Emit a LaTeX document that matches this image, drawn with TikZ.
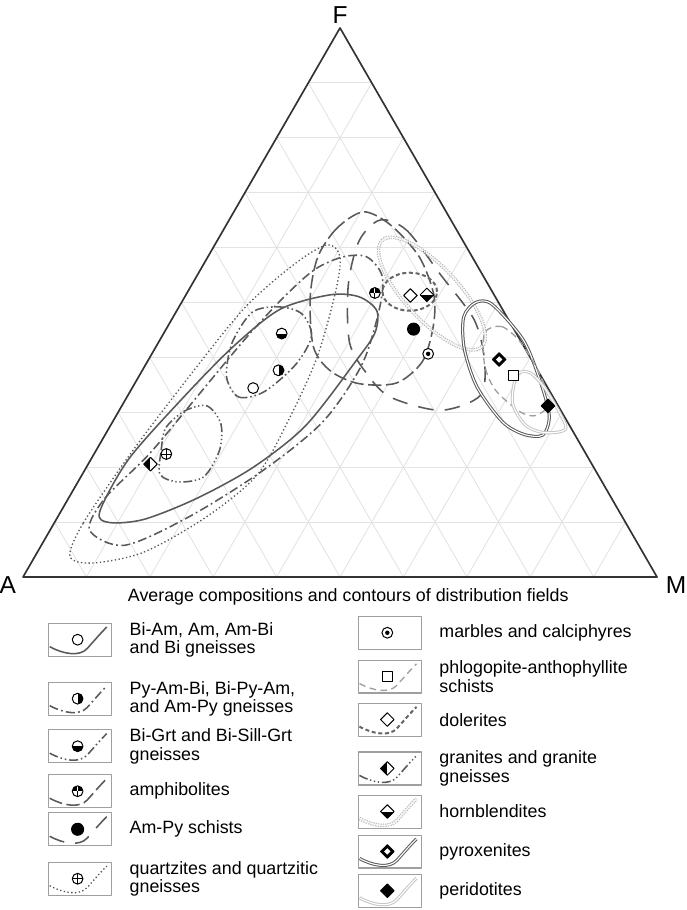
\documentclass[tikz,border=0pt]{standalone}
\usepackage{fontspec}
\setmainfont{Liberation Sans}
\usetikzlibrary{shapes.geometric,calc}

\begin{document}
\begin{tikzpicture}[font=\fontsize{8}{8.4}\selectfont, line join=round]
\tikzstyle{grid}=[draw=gray!22, line width=0.4pt]
\tikzstyle{edge}=[draw=black!80, line width=0.75pt]
\tikzstyle{fld}=[line width=0.7pt, draw=black!65]
\tikzstyle{fBiAm}=[fld]
\tikzstyle{fPyAm}=[fld, dash pattern=on 4pt off 1.5pt on 0.8pt off 1.5pt]
\tikzstyle{fBiGrt}=[fld, dash pattern=on 4pt off 1.3pt on 0.7pt off 1.3pt on 0.7pt off 1.3pt]
\tikzstyle{fAmph}=[fld, dash pattern=on 6pt off 2pt]
\tikzstyle{fAmPy}=[fld, dash pattern=on 7pt off 5pt]
\tikzstyle{fQtz}=[fld, line width=0.6pt, dash pattern=on 0.6pt off 1.1pt]
\tikzstyle{fNone}=[draw=none]
\tikzstyle{fPhl}=[fld, draw=gray!75, line width=0.6pt, dash pattern=on 3pt off 2pt]
\tikzstyle{fDol}=[fld, draw=black!60, line width=0.9pt, dash pattern=on 1.8pt off 1.2pt]
\tikzstyle{fGrn}=[fld, dash pattern=on 4pt off 1.2pt on 0.6pt off 1.2pt on 0.6pt off 1.2pt on 0.6pt off 1.2pt]
\tikzstyle{fHbl}=[draw=gray!55, line width=0.5pt, double=white, double distance=0.6pt, dash pattern=on 0.6pt off 0.5pt]
\tikzstyle{fPyx}=[draw=black!65, line width=0.45pt, double=white, double distance=0.5pt]
\tikzstyle{fPrd}=[draw=gray!45, line width=0.45pt, double=white, double distance=0.5pt]
\tikzstyle{mk}=[draw=black, line width=0.45pt, inner sep=0pt, fill=white]
\tikzstyle{rnd}=[mk, circle, minimum size=1.7mm]
\tikzstyle{dia}=[mk, diamond, minimum size=2.2mm]
\tikzstyle{halfL}=[path picture={\fill[black] (path picture bounding box.south west) rectangle (path picture bounding box.north);}]
\tikzstyle{halfR}=[path picture={\fill[black] (path picture bounding box.north) rectangle (path picture bounding box.south east);}]
\tikzstyle{halfB}=[path picture={\fill[black] (path picture bounding box.south west) rectangle (path picture bounding box.east);}]
\tikzstyle{sBiAm}=[rnd]
\tikzstyle{sPyAm}=[rnd, halfR]
\tikzstyle{sBiGrt}=[rnd, halfB]
\tikzstyle{sAmph}=[rnd, path picture={\fill[black] (path picture bounding box.north west) rectangle (path picture bounding box.east); \draw[white, line width=0.4pt] (path picture bounding box.north) -- (path picture bounding box.center); \draw (path picture bounding box.center) -- (path picture bounding box.south);}]
\tikzstyle{sAmPy}=[rnd, fill=black, minimum size=1.9mm]
\tikzstyle{sQtz}=[rnd, path picture={\draw[line width=0.4pt] (path picture bounding box.north) -- (path picture bounding box.south) (path picture bounding box.west) -- (path picture bounding box.east);}]
\tikzstyle{sMarb}=[rnd, path picture={\fill[black] (path picture bounding box.center) circle (0.35mm);}]
\tikzstyle{sPhl}=[mk, rectangle, minimum size=1.6mm]
\tikzstyle{sDol}=[dia]
\tikzstyle{sGrn}=[dia, halfL]
\tikzstyle{sHbl}=[dia, halfB]
\tikzstyle{sPyx}=[dia, fill=black, path picture={\fill[white] ([yshift=0.5mm]path picture bounding box.center) -- ([xshift=0.5mm]path picture bounding box.center) -- ([yshift=-0.5mm]path picture bounding box.center) -- ([xshift=-0.5mm]path picture bounding box.center) -- cycle;}]
\tikzstyle{sPrd}=[dia, fill=black]
\tikzstyle{key}=[draw=gray!75, line width=0.5pt, minimum width=1.0cm, minimum height=0.52cm, inner sep=0pt]
\useasboundingbox (-0.363,-5.252) rectangle (10.457,9.101);

% triangle A-F-M and 10% grid
\coordinate (A) at (0,0);
\coordinate (M) at (10,0);
\coordinate (F) at (60:10);
\foreach \i in {1,...,9}{
  \draw[grid] ($(A)!\i/10!(F)$) -- ($(M)!\i/10!(F)$);
  \draw[grid] ($(A)!\i/10!(M)$) -- ($(F)!\i/10!(M)$);
  \draw[grid] ($(M)!\i/10!(A)$) -- ($(F)!\i/10!(A)$);
}
\draw[edge] (A) -- (M) -- (F) -- cycle;
\node[font=\fontsize{11}{12}\selectfont] (lF) at (5,8.86) {F};
\node[font=\fontsize{11}{12}\selectfont] (lA) at (-0.24,-0.12) {A};
\node[font=\fontsize{11}{12}\selectfont] (lM) at (10.3,-0.12) {M};
\node (cap) at (5.13,-0.32) {Average compositions and contours of distribution fields};

% distribution fields
\draw[fQtz] plot[smooth cycle] coordinates {(0.74,0.33) (0.95,0.85) (1.70,1.95) (2.58,3.11) (3.50,4.25) (4.30,4.95) (4.80,5.24) (5.00,5.05) (4.93,4.50) (4.65,3.50) (4.25,2.60) (3.70,1.62) (2.88,0.94) (1.90,0.39) (1.09,0.22)};
\draw[fPyAm] plot[smooth cycle] coordinates {(1.05,0.74) (1.29,1.24) (2.00,1.95) (2.75,2.85) (3.50,3.75) (4.10,4.40) (4.60,4.85) (5.05,5.05) (5.42,5.05) (5.66,4.76) (5.63,4.27) (5.35,3.36) (4.73,2.45) (3.77,1.67) (2.60,0.94) (1.60,0.50)};
\draw[fBiAm] plot[smooth cycle] coordinates {(1.21,1.03) (1.66,1.85) (2.48,2.78) (3.30,3.62) (4.05,4.22) (4.84,4.45) (5.30,4.42) (5.58,4.20) (5.55,3.85) (5.26,3.42) (4.46,2.39) (3.63,1.73) (2.74,1.24) (1.91,0.91) (1.36,0.86)};
\draw[fBiGrt] plot[smooth cycle] coordinates {(3.21,3.16) (3.40,2.84) (3.80,2.92) (4.30,3.35) (4.55,3.80) (4.40,4.15) (4.05,4.26) (3.62,4.18) (3.30,3.70)};
\draw[fGrn] plot[smooth cycle] coordinates {(2.16,1.62) (2.18,2.00) (2.25,2.35) (2.55,2.62) (2.90,2.70) (3.12,2.42) (3.10,2.00) (2.85,1.58) (2.45,1.50)};
\draw[fAmph] plot[smooth cycle] coordinates {(5.37,5.76) (4.95,5.50) (4.65,5.05) (4.53,4.42) (4.58,3.63) (4.85,3.25) (5.30,3.05) (5.89,3.06) (6.30,3.40) (6.47,3.95) (6.48,4.45) (6.25,5.05) (5.80,5.55)};
\draw[fAmPy] plot[smooth cycle] coordinates {(5.63,5.63) (6.05,5.47) (6.60,4.75) (7.12,4.05) (7.28,3.40) (7.21,2.86) (6.58,2.63) (5.79,2.84) (5.42,3.21) (5.15,3.70) (5.13,4.60) (5.30,5.30)};
\draw[fHbl] (6.45,4.47) ellipse[x radius=1.15, y radius=0.42, rotate=-47];
\draw[fDol] (6.10,4.50) ellipse[x radius=0.43, y radius=0.30];
\draw[fPyx] plot[smooth cycle] coordinates {(7.14,4.33) (7.40,4.30) (7.89,3.74) (8.15,3.11) (8.30,2.55) (8.20,2.24) (7.90,2.25) (7.56,2.45) (7.16,3.00) (6.96,3.60) (6.95,4.10)};
\draw[fPhl] plot[smooth cycle] coordinates {(7.28,3.85) (7.55,3.95) (7.85,3.70) (8.15,3.20) (8.30,2.75) (8.10,2.55) (7.85,2.60) (7.45,2.95) (7.28,3.35)};
\draw[fPrd] plot[smooth cycle] coordinates {(7.79,3.19) (8.00,3.22) (8.25,2.95) (8.55,2.42) (8.50,2.30) (8.20,2.28) (7.92,2.40) (7.72,2.75)};

% average compositions
\foreach \s/\p in {sBiAm/{(3.63,2.98)}, sPyAm/{(4.03,3.26)}, sBiGrt/{(4.08,3.84)}, sAmph/{(5.55,4.48)},
  sAmPy/{(6.16,3.91)}, sMarb/{(6.39,3.52)}, sDol/{(6.11,4.44)}, sHbl/{(6.37,4.45)}, sGrn/{(2.01,1.78)},
  sQtz/{(2.26,1.94)}, sPyx/{(7.51,3.43)}, sPhl/{(7.74,3.18)}, sPrd/{(8.28,2.70)}}
  \node[\s] (m\s) at \p {};

% legend
\foreach \n/\x/\y/\f/\s/\t in {
  1/0.90/-0.99/fBiAm/sBiAm/{Bi-Am, Am, Am-Bi\\and Bi gneisses},
  2/0.90/-1.92/fPyAm/sPyAm/{Py-Am-Bi, Bi-Py-Am,\\and Am-Py gneisses},
  3/0.90/-2.67/fBiGrt/sBiGrt/{Bi-Grt and Bi-Sill-Grt\\gneisses},
  4/0.90/-3.38/fAmph/sAmph/{amphibolites},
  5/0.90/-3.98/fAmPy/sAmPy/{Am-Py schists},
  6/0.90/-4.76/fQtz/sQtz/{quartzites and quartzitic\\gneisses},
  7/5.785/-0.88/fNone/sMarb/{marbles and calciphyres},
  8/5.785/-1.57/fPhl/sPhl/{phlogopite-anthophyllite\\schists},
  9/5.785/-2.25/fDol/sDol/{dolerites},
  10/5.785/-3.02/fGrn/sGrn/{granites and granite\\gneisses},
  11/5.785/-3.70/fHbl/sHbl/{hornblendites},
  12/5.785/-4.33/fPyx/sPyx/{pyroxenites},
  13/5.785/-4.95/fPrd/sPrd/{peridotites}}{
  \node[key] (k\n) at (\x,\y) {};
  \begin{scope}[shift={(k\n.south west)}]
    \draw[\f] (0.03,0.16) .. controls (0.25,0.04) and (0.5,0.0) .. (0.62,0.13) .. controls (0.72,0.24) and (0.82,0.36) .. (0.93,0.47);
  \end{scope}
  \node[\s] (ks\n) at ($(k\n.south west)+(0.47,0.27)$) {};
  \node[anchor=west, align=left] (t\n) at ($(k\n.east)+(0.15,0)$) {\t};
}
\end{tikzpicture}
\end{document}
